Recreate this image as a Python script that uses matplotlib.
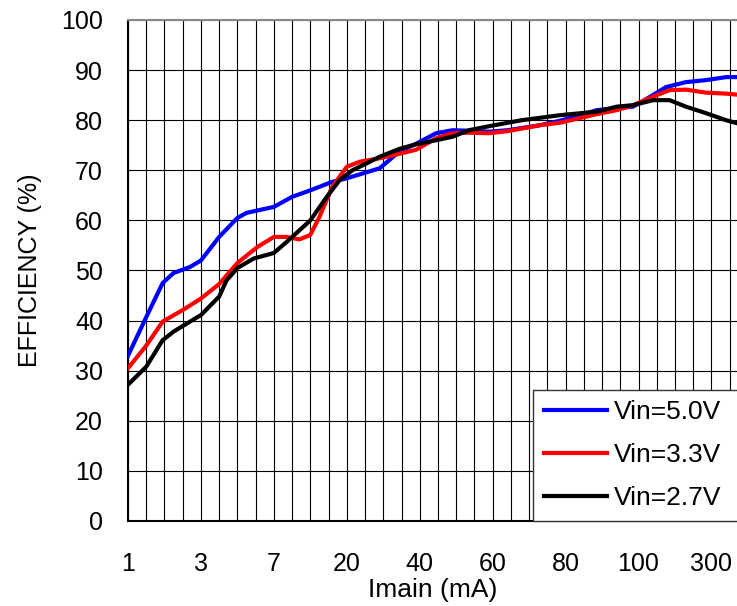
import numpy as np
import matplotlib.pyplot as plt

plt.rcParams['font.family'] = ['Liberation Sans', 'DejaVu Sans']

# x positions are in grid-cell units (the axis is evenly spaced, labelled every 4 cells)
tick_pos = [0, 4, 8, 12, 16, 20, 24, 28, 32]
tick_labels = ['1', '3', '7', '20', '40', '60', '80', '100', '300']

x_50 = [0, 1.0, 1.9, 2.5, 3.4, 4.0, 5.0, 6.0, 6.5, 8.0, 9.0, 10.0, 11.2, 12.0, 12.9,
        13.8, 14.9, 15.8, 16.9, 17.8, 18.7, 19.8, 20.8, 22.6, 23.7, 24.8, 25.7, 26.8,
        27.7, 28.6, 29.5, 30.6, 31.7, 32.8, 33.4]
eff_50 = [33, 40.7, 47.5, 49.5, 50.7, 52, 56.7, 60.5, 61.5, 62.7, 64.7, 66, 67.7, 68.4, 69.4,
          70.4, 73.8, 75.3, 77.4, 78, 77.9, 77.7, 78, 79, 79.9, 81, 82, 82.4,
          82.7, 84.6, 86.6, 87.6, 88, 88.6, 88.6]

x_33 = [0, 1.0, 1.9, 3.0, 4.0, 5.0, 6.0, 7.1, 8.0, 8.7, 9.4, 10.0, 10.5, 11.2, 12.0,
        12.7, 13.8, 14.9, 15.8, 16.9, 17.8, 18.7, 19.8, 20.8, 22.6, 23.7, 25.7, 26.8,
        27.7, 28.8, 29.7, 30.6, 31.7, 32.8, 33.4]
eff_33 = [30.5, 35, 39.8, 42.1, 44.4, 47.3, 51.5, 54.7, 56.7, 56.7, 56.2, 57.1, 60.7, 66.7, 70.7,
          71.7, 72.4, 73.3, 74.1, 76.4, 77.4, 77.5, 77.4, 77.8, 79, 79.5, 81.2, 82,
          83, 84.7, 86, 86.1, 85.5, 85.3, 85.1]

x_27 = [0, 1.0, 1.9, 2.5, 3.4, 4.0, 5.0, 5.4, 6.0, 6.9, 8.0, 8.7, 10.0, 10.9, 11.6,
        12.3, 13.1, 13.8, 14.9, 15.8, 16.9, 17.8, 18.7, 19.8, 21.6, 23.7, 25.7, 26.8,
        27.7, 28.8, 29.7, 30.6, 31.7, 32.8, 33.4]
eff_27 = [27.2, 30.8, 36.1, 37.8, 39.8, 41.1, 44.8, 48, 50.5, 52.4, 53.5, 55.7, 60, 64.7, 68,
          70, 71.4, 72.7, 74.3, 75.2, 76, 76.7, 78, 78.8, 80, 81, 81.7, 82.7,
          83, 84, 84, 82.7, 81.4, 80, 79.4]

fig = plt.figure(figsize=(7.37, 6.06), dpi=100)
ax = fig.add_axes([0.1737, 0.1403, 0.8263, 0.8267])

ax.plot(x_50, eff_50, color='#0000ff', lw=3, label='Vin=5.0V', zorder=3, solid_joinstyle='round')
ax.plot(x_33, eff_33, color='#ff0000', lw=3, label='Vin=3.3V', zorder=3, solid_joinstyle='round')
ax.plot(x_27, eff_27, color='black', lw=3, label='Vin=2.7V', zorder=4, solid_joinstyle='round')

ax.set_xlim(0, 33.4)
ax.set_ylim(0, 100)
ax.set_xticks(tick_pos)
ax.set_xticklabels(tick_labels)
ax.set_xticks(np.arange(0, 34), minor=True)
ax.set_yticks(np.arange(0, 101, 10))
ax.grid(True, which='both', color='black', lw=0.8)
ax.tick_params(axis='x', which='both', length=0, pad=22, labelsize=18)
ax.tick_params(axis='y', length=0, pad=18, labelsize=18)

for s in ['left', 'bottom']:
    ax.spines[s].set_color('black')
    ax.spines[s].set_linewidth(1.5)
ax.spines['top'].set_color('#888888')
ax.spines['top'].set_linewidth(1.5)
ax.spines['right'].set_visible(False)

ax.set_xlabel('Imain (mA)', fontsize=19, labelpad=2)
ax.set_ylabel('EFFICIENCY (%)', fontsize=18, labelpad=14)

# legend box runs past the right edge of the picture, as in the original
leg = ax.legend(loc='lower left', bbox_to_anchor=(0.665, 0.0, 0.4, 0.27), mode='expand',
                fontsize=19, handlelength=2.4, handletextpad=0.25, borderaxespad=0,
                fancybox=False, framealpha=1, labelspacing=0.72)
leg.get_frame().set_edgecolor('#333333')
leg.get_frame().set_linewidth(1.0)

fig.savefig('out.png', dpi=100)
